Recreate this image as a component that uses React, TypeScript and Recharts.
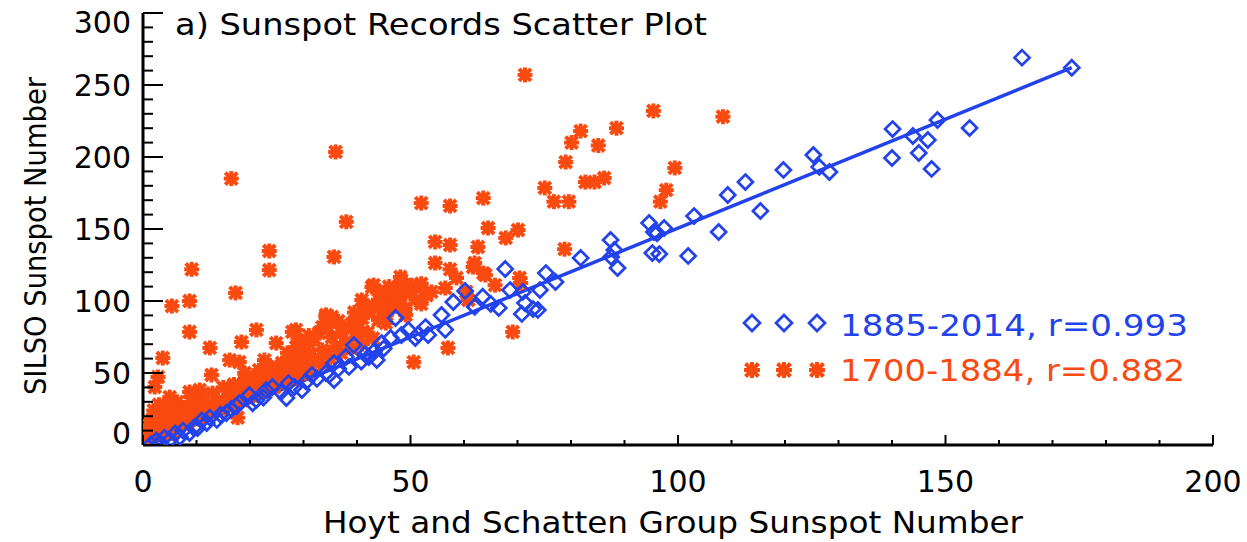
import React from 'react';
import { ScatterChart, Scatter, XAxis, YAxis, ReferenceLine } from 'recharts';

// ---------- data ----------
const titleText = 'a) Sunspot Records Scatter Plot';
const xAxisTitle = 'Hoyt and Schatten Group Sunspot Number';
const yAxisTitle = 'SILSO Sunspot Number';
const modernLabel = '1885-2014, r=0.993';
const earlyLabel = '1700-1884, r=0.882';

const xTicks = [0, 10, 20, 30, 40, 50, 60, 70, 80, 90, 100, 110, 120, 130, 140, 150, 160, 170, 180, 190, 200];
const yTicks = [0, 10, 20, 30, 40, 50, 60, 70, 80, 90, 100, 110, 120, 130, 140, 150, 160, 170, 180, 190, 200, 210, 220, 230, 240, 250, 260, 270, 280, 290, 300];

// 1885-2014 (blue diamonds): [group SN, SILSO SN]
const modernPairs: number[][] = [
  [164.3, 269], [173.6, 262], [140.1, 219.4], [143.9, 214.6], [148.5, 225.7], [146.7, 211.8], [145, 202.8], [140, 199.3], [147.4, 191.7], [154.5, 220.1],
  [125.3, 201.4], [126.4, 193.1], [128.3, 189.6], [119.7, 191], [112.6, 182.6], [109.3, 173.6], [115.4, 162.5], [103, 159], [107.6, 147.9], [101.9, 131.3],
  [94.6, 154.2], [95.5, 147.9], [97.4, 150.7], [96.1, 147], [95.2, 133.3], [96.5, 132.6], [87.4, 142.4], [88.1, 135.4], [88.7, 122.9], [87.5, 130.6],
  [81.8, 129.9], [75.3, 119.4], [77.1, 113.2], [74.2, 107.6], [73.8, 93.8], [67.7, 122.2], [68.6, 107.6], [71, 106.3], [66.5, 95.1], [71.4, 98.6],
  [72.9, 94.4], [70.8, 91], [58, 99.3], [55.8, 90.3], [60.2, 107], [52.8, 81.9], [53.3, 76.4], [50.9, 74.3], [49.6, 79.9], [48.3, 76.4],
  [47.2, 88.2], [46.3, 74.3], [44.6, 70.8], [43.1, 64.6], [43.7, 59], [42.2, 61.1], [39.4, 69.4], [37.9, 61.1], [38.5, 54.2], [35.7, 56.9],
  [34.8, 48.6], [35.7, 45.1], [34.2, 50], [31.6, 48.6], [29.7, 38.2], [28.3, 40.3], [26.8, 32.6], [25.8, 36.8], [24.2, 40.3], [21.2, 31.3],
  [19.9, 34.7], [18, 29.2], [15.6, 22.2], [13.8, 17.4], [11.9, 15.3], [10.2, 11.8], [8.7, 8.3], [6.9, 5.6], [5, 3.5], [3.2, 1.4],
  [1.5, 0.5], [2.5, 3], [4, 5], [6, 8], [7.5, 10], [9.5, 12], [11, 17], [12.5, 19], [14.5, 21], [16.5, 25],
  [17.5, 27], [20.5, 29], [22.5, 33], [23, 38], [27.2, 43], [30.5, 44], [32.5, 46], [36.5, 53], [40.8, 58], [41.5, 63],
  [45, 67], [51.5, 77], [56.5, 80], [62, 96], [63.5, 103], [65, 98],
];

// 1700-1884 (orange asterisks): [group SN, SILSO SN]
const earlyPairs: number[][] = [
  [71.4, 257], [16.5, 185], [36, 203.5], [95.4, 232], [108.4, 228], [81.8, 218], [80.1, 210], [85.1, 208], [88.5, 220], [79, 196.5],
  [99.4, 192.4], [75.1, 178.5], [76.8, 169], [79.6, 169], [82.7, 182.6], [84.4, 182.6], [86.2, 185.4], [97.8, 177], [96.7, 169], [63.6, 171.5],
  [64.5, 150.7], [70.1, 149.3], [52, 168], [57.4, 166], [38, 155], [23.6, 134.7], [23.6, 121.5], [9.1, 122], [35.7, 130.6], [8.7, 100],
  [5.4, 96.5], [17.3, 105.6], [8.7, 78.5], [54.6, 141], [57.4, 138.9], [54.6, 126.4], [57.4, 122], [62.6, 137.5], [62, 126.4], [63.6, 119.4],
  [57, 67.4], [50.6, 57.6], [12.5, 67.4], [18.4, 71.5], [21.2, 79.9], [3.7, 60.4], [34.2, 88.9], [28.6, 79.9], [43.1, 111], [44.6, 105.6],
  [46.5, 106.3], [48.3, 114.6], [50.2, 111], [53.9, 106.3], [40.9, 100.7], [38.5, 81.9], [40.3, 81.2], [44, 86.8], [45.4, 84.7], [35.3, 75],
  [33.5, 81.9], [17.7, 19], [67.8, 143.8], [61.7, 123.6], [64, 118], [65.8, 111], [58.6, 116], [60.4, 106.3], [60.8, 100.7], [56.5, 109],
  [42.8, 109.7], [48.1, 116.7], [47.2, 102.8], [49.1, 105.6], [45.5, 90.3], [49.1, 90.3], [39.8, 81.2], [70.4, 116], [70.6, 112.5], [69.1, 78.5],
  [78.8, 136], [35.3, 89], [16.2, 59], [18, 57.6], [22.7, 59], [21.7, 52], [24.9, 70.8], [27.9, 78.5], [28.6, 68], [31, 70.8],
  [32.9, 77.8], [34.2, 90.3], [33.5, 66], [12.8, 48.6], [8.7, 36.8], [5, 33.3], [2.8, 47.2], [2.2, 40.3], [10.6, 38.2],
  [0.5, 2], [0.8, 6], [1, 10], [1.2, 14], [1.5, 4], [1.8, 18], [2, 24], [2.3, 8], [2.6, 12], [3, 28],
  [3.2, 16], [3.5, 6], [3.8, 21], [4.2, 10], [4.5, 26], [4.8, 14], [5.2, 19], [5.6, 8], [6, 24], [6.4, 30],
  [6.8, 13], [7.2, 18], [7.6, 26], [8, 22], [8.4, 16], [9, 30], [9.6, 20], [10, 26], [10.5, 18], [11, 32],
  [11.5, 24], [12, 28], [12.5, 22], [13, 36], [13.5, 27], [14, 31], [14.5, 25], [15, 40], [15.5, 30], [16, 35],
  [16.5, 28], [17, 42], [17.5, 33], [18, 38], [18.5, 31], [19, 45], [19.5, 36], [20, 41], [20.5, 34], [21, 47],
  [21.5, 39], [22, 44], [22.5, 37], [23, 50], [23.5, 42], [24, 47], [24.5, 40], [25, 54], [25.5, 45], [26, 50],
  [26.5, 43], [27, 57], [27.5, 48], [28, 53], [28.5, 46], [29, 60], [29.5, 52], [30, 56], [30.5, 50], [31, 63],
  [31.5, 55], [32, 60], [33, 57], [34, 64], [35, 60], [36, 68], [37, 64], [38, 72], [39, 67], [40, 75],
  [41, 70], [42, 78], [43, 74], [44, 95], [45, 98], [46, 100], [47, 96], [48, 99], [49, 95], [51, 101], [52, 98],
  [37, 78], [39, 84], [41, 88], [42, 92], [43, 96], [44, 101], [45, 104], [46, 110], [47, 108], [48, 104],
  [49, 111], [50, 106], [51, 109], [52, 112], [53, 104], [41.5, 96], [39.5, 92], [36.5, 86], [34.5, 82], [32, 74],
  [30, 66], [28, 62], [26, 57], [24, 54], [22, 49], [20, 46], [19, 50], [23, 55], [27, 64], [29, 72], [31, 76],
];

// regression line end points (1885-2014 fit)
const fitStart = { x: 0.5, y: 0 };
const fitEnd = { x: 173.6, y: 262 };

// ---------- styles ----------
const BLUE = '#2243EC';
const ORANGE = '#FA4A10';
const FONT = '"DejaVu Sans", sans-serif';

const modernData = modernPairs.map(([x, y]) => ({ x, y }));
const earlyData = earlyPairs.map(([x, y]) => ({ x, y }));

const diamondPath = (cx: number, cy: number, r: number) =>
  `M${cx},${cy - r}L${cx + r},${cy}L${cx},${cy + r}L${cx - r},${cy}Z`;

const Diamond = (props: any) => {
  const { cx, cy } = props;
  if (cx == null || cy == null) return <g />;
  return <path d={diamondPath(cx, cy, 7.5)} fill="none" stroke={BLUE} strokeWidth={2.7} />;
};

const starLines = (cx: number, cy: number, r: number, d: number) => (
  <g stroke={ORANGE} strokeWidth={4} strokeLinecap="butt">
    <line x1={cx - r} y1={cy} x2={cx + r} y2={cy} />
    <line x1={cx} y1={cy - r} x2={cx} y2={cy + r} />
    <line x1={cx - d} y1={cy - d} x2={cx + d} y2={cy + d} />
    <line x1={cx - d} y1={cy + d} x2={cx + d} y2={cy - d} />
  </g>
);

const Star = (props: any) => {
  const { cx, cy } = props;
  if (cx == null || cy == null) return <g />;
  return starLines(cx, cy, 7.5, 6);
};

const XTick = (props: any) => {
  const { x, y, payload } = props;
  const v = payload.value;
  const major = v % 50 === 0;
  return (
    <g>
      <line x1={x} x2={x} y1={y} y2={y - (major ? 10 : 5)} stroke="#000" strokeWidth={2} />
      {major && (
        <text x={x} y={y + 47} textAnchor="middle" fontSize={30} fontFamily={FONT} fill="#000">
          {v}
        </text>
      )}
    </g>
  );
};

const YTick = (props: any) => {
  const { x, y, payload } = props;
  const v = payload.value;
  const major = v % 50 === 0;
  const ly = Math.min(Math.max(y, 22), 433);
  return (
    <g>
      <line x1={x} x2={x + (major ? 20 : 10)} y1={y} y2={y} stroke="#000" strokeWidth={2} />
      {major && (
        <text x={x - 12} y={ly + 11} textAnchor="end" fontSize={30} fontFamily={FONT} fill="#000">
          {v}
        </text>
      )}
    </g>
  );
};

const XTitle = (props: any) => (
  <text x={673} y={533} textAnchor="middle" fontSize={30} fontFamily={FONT} fill="#000"
    textLength={700} lengthAdjust="spacingAndGlyphs">
    {xAxisTitle}
  </text>
);

const YTitle = (props: any) => (
  <text x={0} y={0} transform="translate(46,236) rotate(-90)" textAnchor="middle" fontSize={30} fontFamily={FONT} fill="#000"
    textLength={318} lengthAdjust="spacingAndGlyphs">
    {yAxisTitle}
  </text>
);

const Overlay = () => (
  <svg width={1247} height={542} style={{ position: 'absolute', left: 0, top: 0, pointerEvents: 'none' }}>
    <text x={175} y={35} fontSize={31} fontFamily={FONT} fill="#000" textLength={532} lengthAdjust="spacingAndGlyphs">
      {titleText}
    </text>
    {[752, 784, 817].map((cx) => (
      <path key={'d' + cx} d={diamondPath(cx, 323, 8)} fill="none" stroke={BLUE} strokeWidth={2.7} />
    ))}
    <text x={840} y={336} fontSize={30} fontFamily={FONT} fill={BLUE} textLength={348} lengthAdjust="spacingAndGlyphs">
      {modernLabel}
    </text>
    {[752, 784, 817].map((cx) => (
      <g key={'s' + cx}>{starLines(cx, 370, 8, 6.5)}</g>
    ))}
    <text x={840} y={381} fontSize={30} fontFamily={FONT} fill={ORANGE} textLength={345} lengthAdjust="spacingAndGlyphs">
      {earlyLabel}
    </text>
  </svg>
);

export default function App() {
  return (
    <div style={{ position: 'absolute', left: 0, top: 0, width: 1247, height: 542, background: '#fff' }}>
      <ScatterChart width={1247} height={542} margin={{ top: 13, right: 34, bottom: 0, left: 0 }}>
        <XAxis
          type="number"
          dataKey="x"
          domain={[0, 200]}
          ticks={xTicks}
          interval={0}
          tickSize={0}
          tickMargin={0}
          tickLine={false}
          tick={<XTick />}
          axisLine={{ stroke: '#000', strokeWidth: 3 }}
          height={97}
          allowDataOverflow
          label={<XTitle />}
        />
        <YAxis
          type="number"
          dataKey="y"
          domain={[0, 300]}
          ticks={yTicks}
          interval={0}
          tickSize={0}
          tickMargin={0}
          tickLine={false}
          tick={<YTick />}
          axisLine={{ stroke: '#000', strokeWidth: 3 }}
          width={143}
          allowDataOverflow
          label={<YTitle />}
        />
        <Scatter data={earlyData} shape={<Star />} isAnimationActive={false} />
        <Scatter data={modernData} shape={<Diamond />} isAnimationActive={false} />
        <ReferenceLine segment={[fitStart, fitEnd]} stroke={BLUE} strokeWidth={3.5} />
      </ScatterChart>
      <Overlay />
    </div>
  );
}
